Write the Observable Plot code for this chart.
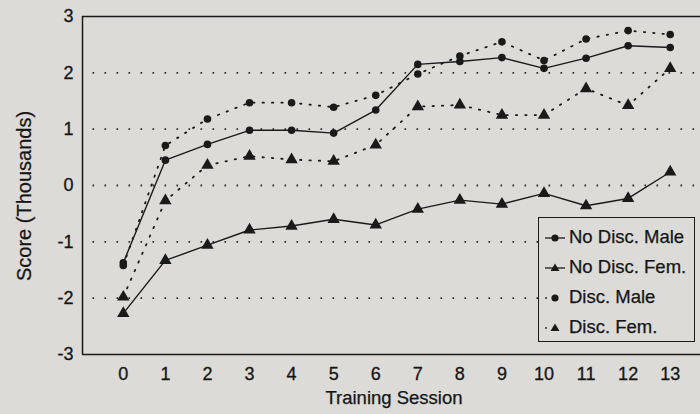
<!DOCTYPE html>
<html>
<head>
<meta charset="utf-8">
<script src="https://cdn.jsdelivr.net/npm/d3@7"></script>
<script src="https://cdn.jsdelivr.net/npm/@observablehq/plot@0.6"></script>
<style>
  html, body { margin: 0; padding: 0; background: #dcdbd8; }
  #wrap { position: relative; width: 700px; height: 414px; background: #dcdbd8; font-family: "Liberation Sans", Arial, sans-serif; color: #151515; overflow: hidden; }
  #ylab { position: absolute; left: 24px; top: 196px; transform: translate(-50%, -50%) rotate(-90deg); font-size: 20px; white-space: nowrap; -webkit-text-stroke: 0.25px #151515; }
  #xlab { position: absolute; left: 394px; top: 387px; transform: translateX(-50%); font-size: 18.5px; white-space: nowrap; -webkit-text-stroke: 0.25px #151515; }
  #legend { position: absolute; left: 538px; top: 217px; width: 157px; height: 125px; border: 1.4px solid #1a1a1a; background: #dcdbd8; box-sizing: border-box; padding-top: 4px; }
  .row { display: flex; align-items: center; height: 30px; font-size: 18.5px; -webkit-text-stroke: 0.25px #151515; }
  .row svg { width: 28px; height: 20px; margin-left: 2px; }
  #chart svg text { stroke: #151515; stroke-width: 0.3px; }
</style>
</head>
<body>
<div id="wrap">
  <div id="chart"></div>
  <div id="ylab">Score (Thousands)</div>
  <div id="xlab">Training Session</div>
  <div id="legend"></div>
</div>
<script>
const sessions = [0,1,2,3,4,5,6,7,8,9,10,11,12,13];
const noDiscMale = [-1.37,0.45,0.73,0.98,0.98,0.93,1.34,2.15,2.2,2.27,2.08,2.26,2.48,2.45];
const noDiscFem  = [-2.27,-1.33,-1.06,-0.79,-0.72,-0.6,-0.7,-0.42,-0.26,-0.33,-0.14,-0.36,-0.23,0.24];
const discMale   = [-1.42,0.71,1.18,1.47,1.47,1.39,1.6,1.98,2.3,2.55,2.22,2.6,2.75,2.68];
const discFem    = [-1.98,-0.27,0.36,0.52,0.46,0.43,0.72,1.4,1.43,1.25,1.25,1.72,1.42,2.08];
const yTicks = [-3,-2,-1,0,1,2,3];
const gridVals = [-2,-1,0,1,2];
const seriesNames = ["No Disc. Male","No Disc. Fem.","Disc. Male","Disc. Fem."];

const ink = "#1a1a1a";
const xmin = -0.97, xmax = 13.72;
const mk = (vals, name) => sessions.map((s, i) => ({session: s, score: vals[i], series: name}));
const sNDM = mk(noDiscMale, seriesNames[0]);
const sNDF = mk(noDiscFem, seriesNames[1]);
const sDM  = mk(discMale, seriesNames[2]);
const sDF  = mk(discFem, seriesNames[3]);

const chart = Plot.plot({
  width: 700, height: 414,
  marginLeft: 82, marginRight: 0, marginTop: 16, marginBottom: 60,
  style: {background: "transparent", fontFamily: "'Liberation Sans', Arial, sans-serif", fontSize: "18px", color: "#151515"},
  x: {domain: [xmin, xmax], ticks: sessions, tickSize: 0, tickPadding: 13, tickFormat: d => String(d), label: null},
  y: {domain: [-3, 3], ticks: yTicks, tickSize: 0, tickPadding: 9, tickFormat: d => String(d), label: null},
  marks: [
    Plot.ruleY(gridVals, {x1: -0.72, x2: xmax, stroke: "#2a2a2a", strokeWidth: 1.8, strokeDasharray: "1.6,10.4"}),
    Plot.ruleX([xmin], {y1: -3, y2: 3, stroke: ink, strokeWidth: 1.5}),
    Plot.ruleY([3, -3], {x1: xmin, x2: xmax, stroke: ink, strokeWidth: 1.5}),
    Plot.line(sDM, {x: "session", y: "score", stroke: ink, strokeWidth: 1.8, strokeDasharray: "1.4,8"}),
    Plot.line(sDF, {x: "session", y: "score", stroke: ink, strokeWidth: 1.8, strokeDasharray: "1.4,8"}),
    Plot.line(sNDM, {x: "session", y: "score", stroke: ink, strokeWidth: 1.4}),
    Plot.line(sNDF, {x: "session", y: "score", stroke: ink, strokeWidth: 1.4}),
    Plot.dot(sNDM, {x: "session", y: "score", symbol: "circle", fill: ink, r: 3.8}),
    Plot.dot(sDM, {x: "session", y: "score", symbol: "circle", fill: ink, r: 3.8}),
    Plot.dot(sNDF, {x: "session", y: "score", symbol: "triangle", fill: ink, r: 4.6}),
    Plot.dot(sDF, {x: "session", y: "score", symbol: "triangle", fill: ink, r: 4.6})
  ]
});
document.getElementById("chart").appendChild(chart);

// legend
const legend = document.getElementById("legend");
const styles = [
  {dash: null, sym: "circle"},
  {dash: null, sym: "triangle"},
  {dash: "dot", sym: "circle"},
  {dash: "dot", sym: "triangle"}
];
seriesNames.forEach((name, i) => {
  const st = styles[i];
  const row = document.createElement("div");
  row.className = "row";
  let line = st.dash
    ? `<circle cx="5" cy="11" r="0.9" fill="${ink}"/>`
    : `<line x1="4" y1="11" x2="24" y2="11" stroke="${ink}" stroke-width="1.3"/>`;
  let sym = st.sym === "circle"
    ? `<circle cx="14" cy="11" r="3.6" fill="${ink}"/>`
    : `<path d="M14,6.5 L18.5,14 L9.5,14 Z" fill="${ink}"/>`;
  row.innerHTML = `<svg viewBox="0 0 28 20">${line}${sym}</svg><span>${name}</span>`;
  legend.appendChild(row);
});
</script>
</body>
</html>
